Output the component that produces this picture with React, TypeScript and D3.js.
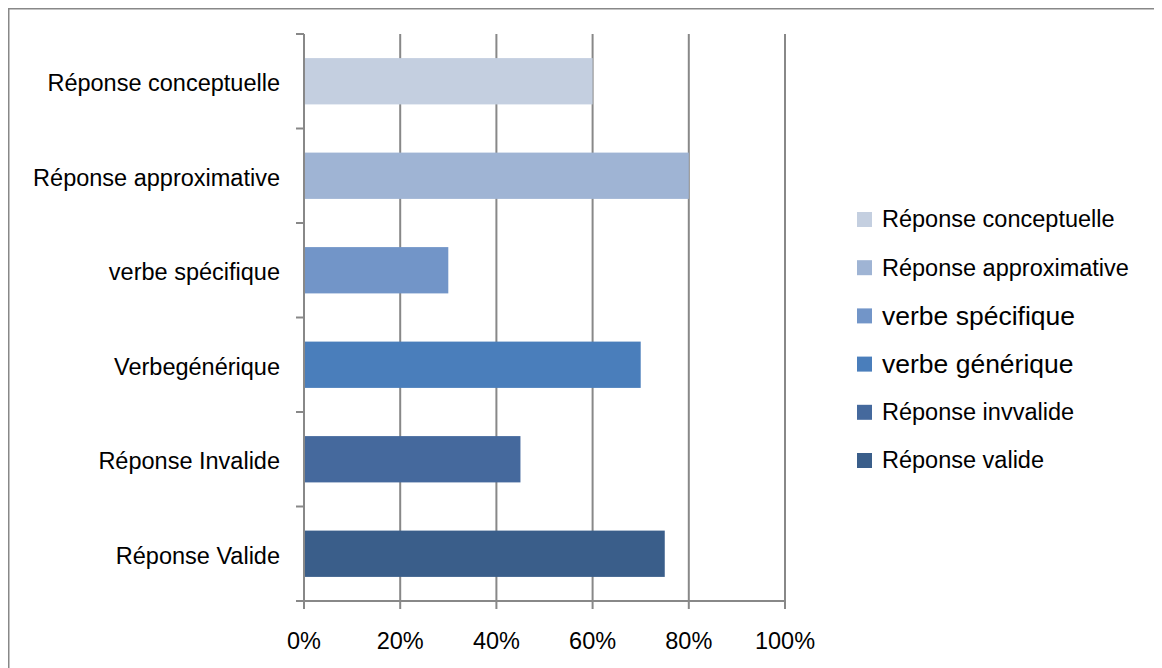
import React from "react";
import * as d3 from "d3";

const categories = [
  "Réponse conceptuelle",
  "Réponse approximative",
  "verbe spécifique",
  "Verbegénérique",
  "Réponse Invalide",
  "Réponse Valide",
];
const values = [60, 80, 30, 70, 45, 75];
const barColors = ["#C4CFE0", "#9FB4D4", "#7295C8", "#4A7EBB", "#45699D", "#3A5E8A"];
const legendLabels = [
  "Réponse conceptuelle",
  "Réponse approximative",
  "verbe spécifique",
  "verbe générique",
  "Réponse invvalide",
  "Réponse valide",
];
const legendFontSizes = [23.5, 23.5, 26.5, 26.5, 23.5, 23.5];
const xTicks = [0, 20, 40, 60, 80, 100];

const W = 1154;
const H = 660;
const FONT = "'Liberation Sans', Arial, sans-serif";
const GRAY = "#888888";

export default function App() {
  const x = d3.scaleLinear().domain([0, 100]).range([296, 777]);
  const y = d3
    .scaleBand<string>()
    .domain(categories)
    .range([26, 593])
    .paddingInner(0.51)
    .paddingOuter(0.255);
  const step = y.step();
  const top = 26;
  const bottom = 593;
  const boundaries = d3.range(categories.length + 1).map((i) => top + i * (bottom - top) / categories.length);

  const legendY = d3.scalePoint<string>().domain(legendLabels).range([211, 452]);

  return (
    <svg width={W} height={H} style={{ display: "block" }}>
      <rect x={0.75} y={0.75} width={1300} height={800} fill="white" stroke={GRAY} strokeWidth={1.5} />
      {/* gridlines */}
      {xTicks.slice(1).map((t) => (
        <line key={t} x1={x(t)} x2={x(t)} y1={top} y2={bottom + 8} stroke={GRAY} strokeWidth={2} />
      ))}
      {/* bars */}
      {categories.map((c, i) => (
        <rect key={c} x={x(0)} y={y(c)!} width={x(values[i]) - x(0)} height={y.bandwidth()} fill={barColors[i]} />
      ))}
      {/* y axis */}
      <line x1={x(0)} x2={x(0)} y1={top} y2={bottom + 8} stroke={GRAY} strokeWidth={2} />
      {boundaries.map((b, i) => (
        <line key={i} x1={x(0) - 8} x2={x(0)} y1={b} y2={b} stroke={GRAY} strokeWidth={2} />
      ))}
      {/* x axis */}
      <line x1={x(0) - 8} x2={x(100)} y1={bottom} y2={bottom} stroke={GRAY} strokeWidth={2} />
      {/* category labels */}
      {categories.map((c) => (
        <text
          key={c}
          x={272}
          y={y(c)! + y.bandwidth() / 2}
          dy="0.42em"
          textAnchor="end"
          fontFamily={FONT}
          fontSize={23.5}
          fill="#000"
        >
          {c}
        </text>
      ))}
      {/* x tick labels */}
      {xTicks.map((t) => (
        <text key={t} x={x(t)} y={641} textAnchor="middle" fontFamily={FONT} fontSize={23.5} fill="#000">
          {t + "%"}
        </text>
      ))}
      {/* legend */}
      {legendLabels.map((l, i) => (
        <g key={l} transform={`translate(849,${legendY(l)})`}>
          <rect x={0} y={-7} width={15} height={15} fill={barColors[i]} />
          <text x={25} y={0} dy="0.36em" fontFamily={FONT} fontSize={legendFontSizes[i]} fill="#000">
            {l}
          </text>
        </g>
      ))}
    </svg>
  );
}
